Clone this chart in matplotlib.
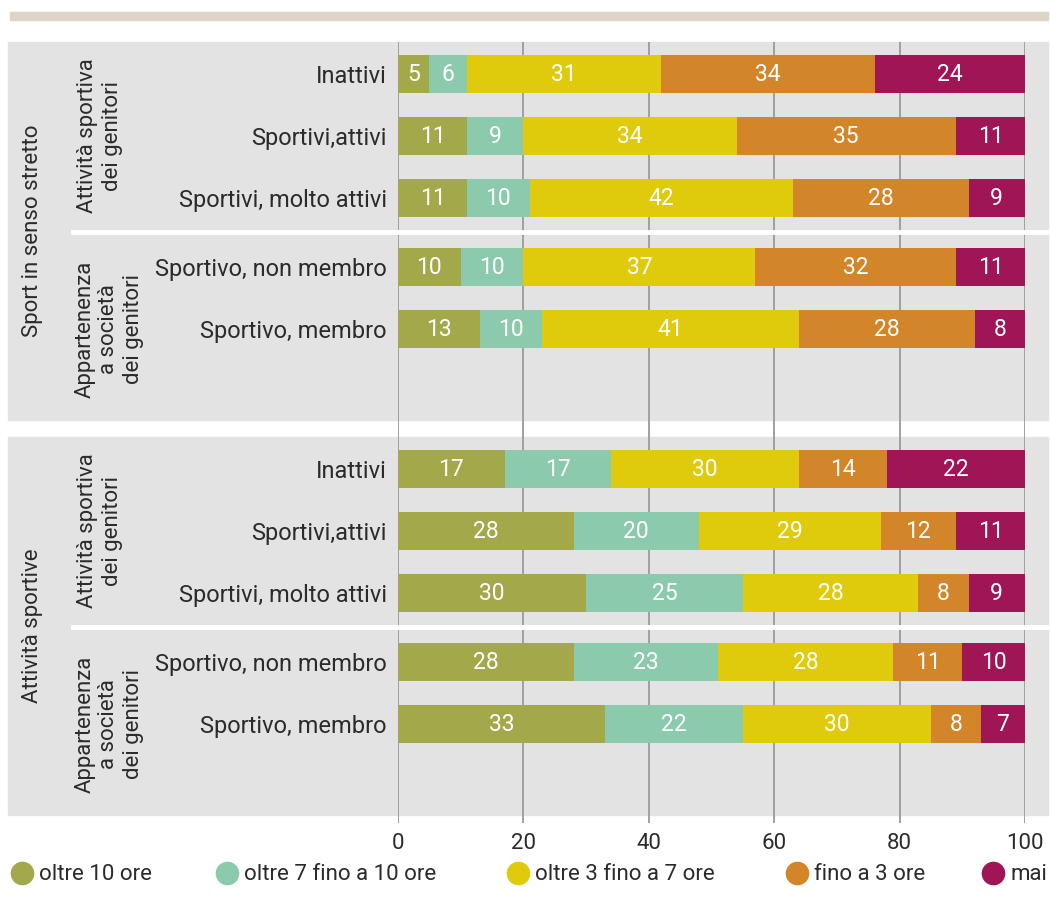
import matplotlib.pyplot as plt
import numpy as np
from matplotlib.patches import Rectangle
from matplotlib.lines import Line2D
from matplotlib.transforms import blended_transform_factory

plt.rcParams['font.family'] = ['Roboto', 'DejaVu Sans']

series = ['oltre 10 ore', 'oltre 7 fino a 10 ore', 'oltre 3 fino a 7 ore',
          'fino a 3 ore', 'mai']
colors = ['#a3a94b', '#8ccaad', '#dfcb0b', '#d38529', '#9f1556']

rows = ['Inattivi', 'Sportivi,attivi', 'Sportivi, molto attivi',
        'Sportivo, non membro', 'Sportivo, membro']

# one row per category, one column per series
sport_stretto = [[5, 6, 31, 34, 24],
                 [11, 9, 34, 35, 11],
                 [11, 10, 42, 28, 9],
                 [10, 10, 37, 32, 11],
                 [13, 10, 41, 28, 8]]
attivita_sportive = [[17, 17, 30, 14, 22],
                     [28, 20, 29, 12, 11],
                     [30, 25, 28, 8, 9],
                     [28, 23, 28, 11, 10],
                     [33, 22, 30, 8, 7]]

panels = ['Sport in senso stretto', 'Attività sportive']
sub_labels = ['Attività sportiva\ndei genitori',
              'Appartenenza\na società\ndei genitori']

W, H = 1050, 913
TXT = '#2b2b2b'
FS = 16


def fx(px):
    return px / W


def fy(py):
    return 1 - py / H


fig = plt.figure(figsize=(W / 100, H / 100), dpi=100)

# top beige rule
fig.patches.append(Rectangle((fx(10), fy(20)), (1048 - 10) / W, 8 / H,
                             transform=fig.transFigure, color='#ddd6c6', zorder=-2))

ax = fig.add_axes([fx(398), fy(823), (1025 - 398) / W, (823 - 42) / H])
ax.patch.set_visible(False)
ax.set_xlim(0, 100)
ax.set_ylim(823, 42)

panel_top = [42, 437]
row_off = np.array([32, 94, 156, 225, 287])

for top in panel_top:
    fig.patches.append(Rectangle((fx(8), fy(top + 378)), (1048 - 8) / W, 378 / H,
                                 transform=fig.transFigure, color='#e3e3e3', zorder=-1))

for v in range(0, 101, 20):
    ax.axvline(v, color='#9a9a9a', lw=1.3, zorder=1)

bt = blended_transform_factory(fig.transFigure, ax.transData)
all_centers, all_labels = [], []
for p, (top, data) in enumerate(zip(panel_top, [sport_stretto, attivita_sportive])):
    data = np.array(data)
    centers = top + row_off
    left = np.zeros(len(rows))
    for j, c in enumerate(colors):
        vals = data[:, j]
        ax.barh(centers, vals, left=left, height=38, color=c, zorder=3)
        for y, l, v in zip(centers, left, vals):
            ax.text(l + v / 2, y, str(v), ha='center', va='center',
                    color='white', fontsize=FS + 0.5, zorder=4)
        left = left + vals
    all_centers += list(centers)
    all_labels += rows

    # white separator between sub-groups
    ax.add_line(Line2D([fx(73), fx(1048)], [top + 189.5] * 2, color='white',
                       lw=3.5, transform=bt, clip_on=False, zorder=2))

    fig.text(fx(33), fy(top + 189), panels[p], rotation=90, ha='center',
             va='center', fontsize=FS, color=TXT)
    fig.text(fx(100), fy(top + 94), sub_labels[0], rotation=90, ha='center',
             va='center', fontsize=FS, color=TXT, multialignment='center',
             linespacing=1.3)
    fig.text(fx(109), fy(top + 287), sub_labels[1], rotation=90, ha='center',
             va='center', fontsize=FS, color=TXT, multialignment='center',
             linespacing=1.2)

ax.set_yticks(all_centers, all_labels)
ax.set_xticks(range(0, 101, 20))
ax.tick_params(axis='y', length=0, pad=8, labelsize=FS + 1, labelcolor=TXT)
ax.tick_params(axis='x', length=0, pad=7, labelsize=FS, labelcolor=TXT)
for s in ax.spines.values():
    s.set_visible(False)

# legend
leg_x = [22, 227, 518, 797, 993]
for cx, lab, c in zip(leg_x, series, colors):
    fig.add_artist(Line2D([fx(cx)], [fy(873)], marker='o', ms=16, color=c,
                          transform=fig.transFigure))
    fig.text(fx(cx + 17), fy(874), lab, ha='left', va='center',
             fontsize=FS, color=TXT)

fig.savefig('out.png', dpi=100)
